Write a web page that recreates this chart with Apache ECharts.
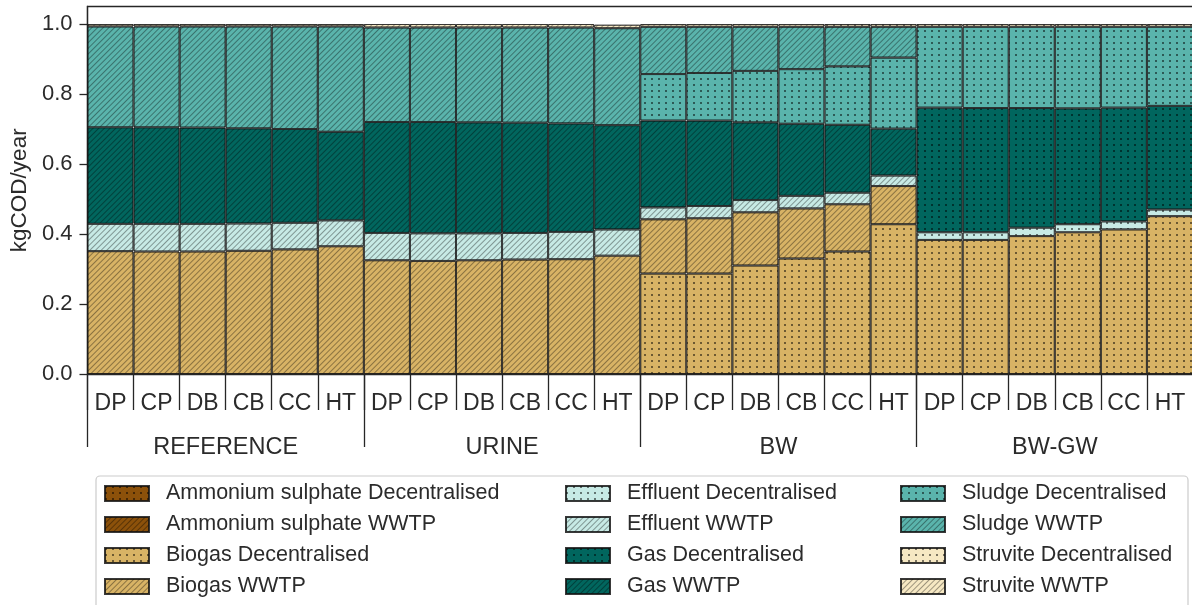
<!DOCTYPE html>
<html>
<head>
<meta charset="utf-8">
<script src="https://cdn.jsdelivr.net/npm/echarts@6/dist/echarts.min.js"></script>
<style>
html,body{margin:0;padding:0;background:#fff;overflow:hidden;width:1192px;height:605px;}
#chart{width:1200px;height:605px;}
</style>
</head>
<body>
<div id="chart"></div>
<script>
// ---- data ----
const subLabels = ['DP', 'CP', 'DB', 'CB', 'CC', 'HT'];
const groups = ['REFERENCE', 'URINE', 'BW', 'BW-GW'];
const yTicks = [0, 0.2, 0.4, 0.6, 0.8, 1.0];

const ammoniumDec  = [0,0,0,0,0,0, 0,0,0,0,0,0, 0,0,0,0,0,0, 0,0,0,0,0,0];
const ammoniumWWTP = [0,0,0,0,0,0, 0,0,0,0,0,0, 0,0,0,0,0,0, 0,0,0,0,0,0];
const biogasDec    = [0,0,0,0,0,0, 0,0,0,0,0,0, 0.287,0.287,0.310,0.330,0.350,0.428, 0.383,0.383,0.394,0.405,0.413,0.451];
const biogasWWTP   = [0.351,0.350,0.350,0.352,0.356,0.365, 0.325,0.323,0.325,0.327,0.328,0.338, 0.155,0.158,0.152,0.143,0.135,0.109, 0,0,0,0,0,0];
const effluentDec  = [0,0,0,0,0,0, 0,0,0,0,0,0, 0,0,0,0,0,0, 0.022,0.022,0.024,0.023,0.023,0.019];
const effluentWWTP = [0.078,0.079,0.079,0.078,0.076,0.074, 0.078,0.079,0.077,0.076,0.078,0.075, 0.034,0.035,0.035,0.036,0.033,0.030, 0,0,0,0,0,0];
const gasDec       = [0,0,0,0,0,0, 0,0,0,0,0,0, 0,0,0,0,0,0, 0.356,0.355,0.342,0.331,0.325,0.296];
const gasWWTP      = [0.276,0.276,0.275,0.272,0.268,0.253, 0.317,0.318,0.317,0.315,0.310,0.298, 0.248,0.244,0.222,0.206,0.194,0.134, 0,0,0,0,0,0];
const sludgeDec    = [0,0,0,0,0,0, 0,0,0,0,0,0, 0.133,0.136,0.147,0.156,0.167,0.203, 0.231,0.232,0.232,0.233,0.231,0.226];
const sludgeWWTP   = [0.288,0.288,0.289,0.291,0.293,0.301, 0.270,0.270,0.271,0.272,0.274,0.277, 0.135,0.132,0.126,0.121,0.113,0.088, 0,0,0,0,0,0];
const struviteDec  = [0,0,0,0,0,0, 0,0,0,0,0,0, 0,0,0,0,0.008,0.008, 0.008,0.008,0.008,0.008,0.008,0.008];
const struviteWWTP = [0.007,0.007,0.007,0.007,0.007,0.007, 0.010,0.010,0.010,0.010,0.010,0.010, 0.008,0.008,0.008,0.008,0,0, 0,0,0,0,0,0];

// ---- styles ----
const FONT = '"Liberation Sans", Arial, sans-serif';
const TEXT = '#2b2b2b';
const colors = {
  ammonium: '#8c510a', biogas: '#d8b365', effluent: '#c7eae5',
  gas: '#01665e', sludge: '#5ab4ac', struvite: '#f6e8c3'
};
const hatch = {
  symbol: 'rect', symbolSize: 1, color: 'rgba(0,0,0,0.36)',
  dashArrayX: [1, 0], dashArrayY: [1, 2.3], rotation: -Math.PI / 4
};
const dots = {
  symbol: 'rect', symbolSize: 1, color: 'rgba(0,0,0,0.5)',
  dashArrayX: [1.3, 4.7], dashArrayY: [1.3, 3.7], rotation: 0
};

const categories = [];
groups.forEach(() => subLabels.forEach(s => categories.push(s)));

const seriesDefs = [
  ['Ammonium sulphate Decentralised', ammoniumDec, colors.ammonium, dots],
  ['Ammonium sulphate WWTP', ammoniumWWTP, colors.ammonium, hatch],
  ['Biogas Decentralised', biogasDec, colors.biogas, dots],
  ['Biogas WWTP', biogasWWTP, colors.biogas, hatch],
  ['Effluent Decentralised', effluentDec, colors.effluent, dots],
  ['Effluent WWTP', effluentWWTP, colors.effluent, hatch],
  ['Gas Decentralised', gasDec, colors.gas, dots],
  ['Gas WWTP', gasWWTP, colors.gas, hatch],
  ['Sludge Decentralised', sludgeDec, colors.sludge, dots],
  ['Sludge WWTP', sludgeWWTP, colors.sludge, hatch],
  ['Struvite Decentralised', struviteDec, colors.struvite, dots],
  ['Struvite WWTP', struviteWWTP, colors.struvite, hatch]
];

const series = seriesDefs.map(([name, vals, color, decal]) => ({
  name: name,
  type: 'bar',
  stack: 'total',
  barWidth: '100%',
  xAxisIndex: 0,
  data: vals.map(v => (v === 0 ? '-' : v)),
  itemStyle: {
    color: color,
    borderColor: 'rgba(20,20,20,0.6)',
    borderWidth: 1,
    decal: decal
  },
  emphasis: { disabled: true }
}));

const legendNames = seriesDefs.map(d => d[0]);
function legendCol(names, left) {
  return {
    orient: 'vertical',
    left: left,
    top: 482,
    padding: 0,
    itemWidth: 44,
    itemHeight: 15,
    itemGap: 8,
    icon: 'rect',
    data: names,
    selectedMode: false,
    textStyle: { fontFamily: FONT, fontSize: 21.5, color: TEXT, lineHeight: 23, padding: [0, 0, 0, 12] }
  };
}

const chart = echarts.init(document.getElementById('chart'), null, { renderer: 'canvas' });
chart.setOption({
  animation: false,
  aria: { enabled: false },
  grid: {
    left: 85, right: 7, top: 6.5, bottom: 231,
    show: true, borderColor: '#262626', borderWidth: 1.3, backgroundColor: 'transparent'
  },
  xAxis: [
    {
      type: 'category',
      data: categories,
      position: 'bottom',
      axisLine: { show: true, lineStyle: { color: '#262626', width: 1.3 } },
      axisTick: { show: true, interval: 0, length: 36, lineStyle: { color: '#262626', width: 1.3 } },
      axisLabel: { interval: 0, margin: 18, fontFamily: FONT, fontSize: 23, color: TEXT },
      splitLine: { show: false }
    },
    {
      type: 'category',
      data: groups,
      position: 'bottom',
      offset: 0,
      axisLine: { show: false },
      axisTick: { show: true, interval: 0, length: 73, lineStyle: { color: '#262626', width: 1.3 } },
      axisLabel: { interval: 0, margin: 62, fontFamily: FONT, fontSize: 23.5, color: TEXT },
      splitLine: { show: false }
    }
  ],
  yAxis: {
    type: 'value',
    min: 0,
    max: 1.05,
    interval: 0.2,
    name: 'kgCOD/year',
    nameLocation: 'middle',
    nameGap: 55,
    nameTextStyle: { fontFamily: FONT, fontSize: 22.5, color: TEXT },
    axisLine: { show: true, lineStyle: { color: '#262626', width: 1.3 } },
    axisTick: { show: true, length: 8, customValues: yTicks, lineStyle: { color: '#262626', width: 1.3 } },
    axisLabel: {
      customValues: yTicks, margin: 15, fontFamily: FONT, fontSize: 22, color: TEXT,
      formatter: v => v.toFixed(1)
    },
    splitLine: { show: false }
  },
  legend: [
    legendCol(legendNames.slice(0, 4), 104),
    legendCol(legendNames.slice(4, 8), 565),
    legendCol(legendNames.slice(8, 12), 900)
  ],
  graphic: [{
    type: 'rect',
    z: -10,
    shape: { x: 96, y: 476, width: 1092, height: 150, r: 4 },
    style: { fill: '#fff', stroke: '#cccccc', lineWidth: 1.2 }
  }],
  series: series
});
</script>
</body>
</html>
